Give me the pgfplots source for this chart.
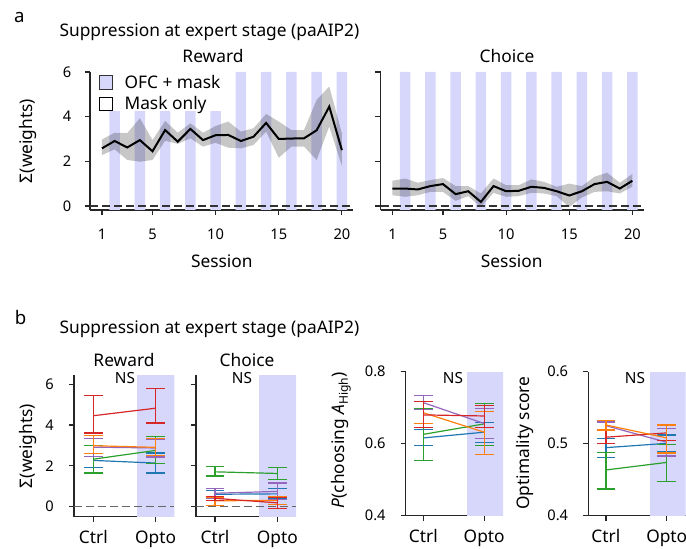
\documentclass[border=0pt]{standalone}
\usepackage{fontspec}
\setmainfont{Noto Sans}
\usepackage{pgfplots}
\pgfplotsset{compat=1.18}
\usepackage{pgfplotstable}

\definecolor{barblue}{RGB}{215,215,252}
\definecolor{tblue}{RGB}{31,119,180}
\definecolor{torange}{RGB}{255,127,14}
\definecolor{tgreen}{RGB}{44,160,44}
\definecolor{tred}{RGB}{214,39,40}
\definecolor{tpurple}{RGB}{148,103,189}
\newcommand{\lab}{\fontsize{13}{15}\selectfont}
\newcommand{\tck}{\fontsize{11}{13}\selectfont}

% ---------- panel a: session means ----------
\pgfplotstableread{
s m
1 2.58
2 2.91
3 2.62
4 2.95
5 2.45
6 3.40
7 2.88
8 3.45
9 2.95
10 3.17
11 3.18
12 2.91
13 3.10
14 3.72
15 3.00
16 3.02
17 3.03
18 3.39
19 4.45
20 2.50
}\rewA
\pgfplotstableread{
s m
1 0.78
2 0.78
3 0.74
4 0.89
5 0.98
6 0.53
7 0.66
8 0.18
9 0.89
10 0.66
11 0.68
12 0.86
13 0.81
14 0.66
15 0.47
16 0.66
17 0.98
18 1.08
19 0.78
20 1.13
}\choA
% ---------- panel a: error bands (upper edge 1..20, then lower edge 20..1) ----------
\pgfplotstableread{
s v
1 2.98
2 3.28
3 3.26
4 3.93
5 2.95
6 3.81
7 3.28
8 3.70
9 3.28
10 3.58
11 3.78
12 3.33
13 3.48
14 4.12
15 3.78
16 3.40
17 3.40
18 4.75
19 5.35
20 3.25
20 1.79
19 3.56
18 2.06
17 2.66
16 2.66
15 2.16
14 3.33
13 2.73
12 2.58
11 2.61
10 2.83
9 2.66
8 3.03
7 2.78
6 2.92
5 2.06
4 1.98
3 2.06
2 2.54
1 2.28
}\rewBand
\pgfplotstableread{
s v
1 1.13
2 1.23
3 1.04
4 1.16
5 1.25
6 0.89
7 0.89
8 0.56
9 1.23
10 0.93
11 0.93
12 1.19
13 1.08
14 0.86
15 1.00
16 0.89
17 1.31
18 1.49
19 1.04
20 1.43
20 0.86
19 0.56
18 0.66
17 0.63
16 0.38
15 -0.05
14 0.44
13 0.56
12 0.59
11 0.44
10 0.41
9 0.59
8 -0.05
7 0.44
6 0.23
5 0.63
4 0.63
3 0.48
2 0.41
1 0.48
}\choBand
% ---------- stimulation bars at even sessions (outline of all bars) ----------
\pgfplotstableread{
x y
1.58 -0.3
1.58 4.25
2.42 4.25
2.42 -0.3
3.58 -0.3
3.58 4.25
4.42 4.25
4.42 -0.3
5.58 -0.3
5.58 4.25
6.42 4.25
6.42 -0.3
7.58 -0.3
7.58 4.25
8.42 4.25
8.42 -0.3
9.58 -0.3
9.58 4.25
10.42 4.25
10.42 -0.3
11.58 -0.3
11.58 6.0
12.42 6.0
12.42 -0.3
13.58 -0.3
13.58 6.0
14.42 6.0
14.42 -0.3
15.58 -0.3
15.58 6.0
16.42 6.0
16.42 -0.3
17.58 -0.3
17.58 6.0
18.42 6.0
18.42 -0.3
19.58 -0.3
19.58 6.0
20.42 6.0
20.42 -0.3
}\barsR
\pgfplotstableread{
x y
1.58 -0.3
1.58 6.0
2.42 6.0
2.42 -0.3
3.58 -0.3
3.58 6.0
4.42 6.0
4.42 -0.3
5.58 -0.3
5.58 6.0
6.42 6.0
6.42 -0.3
7.58 -0.3
7.58 6.0
8.42 6.0
8.42 -0.3
9.58 -0.3
9.58 6.0
10.42 6.0
10.42 -0.3
11.58 -0.3
11.58 6.0
12.42 6.0
12.42 -0.3
13.58 -0.3
13.58 6.0
14.42 6.0
14.42 -0.3
15.58 -0.3
15.58 6.0
16.42 6.0
16.42 -0.3
17.58 -0.3
17.58 6.0
18.42 6.0
18.42 -0.3
19.58 -0.3
19.58 6.0
20.42 6.0
20.42 -0.3
}\barsC

% ---------- panel b data (x=0 Ctrl, x=1 Opto) ----------
\pgfplotstableread{
x ry rlo rhi oy olo ohi py plo phi gy glo ghi by blo bhi
0 4.45 3.60 5.44 2.98 2.59 3.48 2.91 2.47 3.35 2.32 1.64 2.98 2.26 1.92 2.60
1 4.82 4.09 5.77 2.90 2.51 3.33 2.87 2.43 3.31 2.75 2.10 3.44 2.13 1.64 2.62
}\rewB
\pgfplotstableread{
x ry rlo rhi oy olo ohi py plo phi gy glo ghi by blo bhi
0 0.40 0.30 0.50 0.28 0.06 0.46 0.65 0.42 0.88 1.70 1.50 1.96 0.60 0.40 0.80
1 0.18 -0.08 0.44 0.30 0.10 0.50 0.74 0.33 1.15 1.62 1.34 1.92 0.62 0.40 0.87
}\choB
\pgfplotstableread{
x ry rlo rhi oy olo ohi py plo phi gy glo ghi by blo bhi
0 0.680 0.646 0.717 0.686 0.657 0.717 0.714 0.694 0.733 0.626 0.553 0.697 0.616 0.594 0.640
1 0.677 0.646 0.705 0.632 0.569 0.689 0.656 0.615 0.697 0.655 0.596 0.712 0.632 0.604 0.658
}\pB
\pgfplotstableread{
x ry rlo rhi oy olo ohi py plo phi gy glo ghi by blo bhi
0 0.509 0.5005 0.518 0.526 0.519 0.532 0.525 0.520 0.530 0.4635 0.437 0.488 0.4945 0.481 0.5075
1 0.515 0.504 0.526 0.508 0.487 0.526 0.502 0.483 0.521 0.474 0.448 0.499 0.5005 0.489 0.512
}\optB
% Opto shading rectangles of panel b
\pgfplotstableread{
x y
0.70 -0.6
0.70 6.45
1.31 6.45
1.31 -0.6
}\shR
\pgfplotstableread{
x y
0.71 -0.6
0.71 6.45
1.31 6.45
1.31 -0.6
}\shC
\pgfplotstableread{
x y
0.71 0.3
0.71 0.8
1.32 0.8
1.32 0.3
}\shP
\pgfplotstableread{
x y
0.72 0.3
0.72 0.6
1.32 0.6
1.32 0.3
}\shO

\pgfplotsset{
  panel/.style={
    scale only axis,
    axis lines*=left,
    axis line style={line width=0.9pt, black!85},
    every tick/.style={line width=0.9pt, black!85},
    tick align=outside,
    major tick length=3.9pt,
    /pgf/number format/assume math mode=true,
    ticklabel style={font=\tck, inner sep=0pt},
    xticklabel style={yshift=-10pt},
    yticklabel style={xshift=-10pt},
  },
  panelb/.style={
    panel,
    xtick={0,1}, xticklabels={Ctrl,Opto},
    xticklabel style={font=\lab, yshift=3.6pt},
    yticklabel style={xshift=-1pt},
  },
  ser/.style={
    color=#1, line width=0.9pt, mark=none,
    error bars/y dir=both, error bars/y explicit,
    error bars/error mark=-,
    error bars/error bar style={color=#1, line width=0.9pt},
    error bars/error mark options={rotate=90, color=#1, mark size=7pt, line width=0.9pt},
  },
}

\begin{document}
\begin{tikzpicture}
\useasboundingbox (0pt,0pt) rectangle (514.5pt,411.75pt);

% ================= panel a: Reward =================
\begin{axis}[panel,
  at={(67.5pt,254.25pt)}, anchor=south west,
  width=197.25pt, height=103.5pt,
  xmin=0.05, xmax=20.88, ymin=-0.18, ymax=6,
  xtick={1,5,10,15,20}, ytick={0,2,4,6},
  legend image code/.code={\draw[#1] (0pt,-5pt) rectangle (10pt,5pt); \path (16.5pt,0pt);},
  legend style={draw=none, fill=none, at={(rel axis cs:0.033,1.0)}, anchor=north west,
    font=\lab, inner sep=0pt, row sep=0.5pt},
  legend cell align=left,
]
\addlegendimage{fill=barblue, draw=black!80, line width=0.7pt}
\addlegendentry{OFC + mask}
\addlegendimage{fill=white, draw=black, line width=0.7pt}
\addlegendentry{Mask only}
\addplot[fill=barblue, draw=none, forget plot] table[x=x,y=y] {\barsR};
\addplot[fill=black, fill opacity=0.22, draw=none, forget plot] table[x=s,y=v] {\rewBand};
\addplot[black, line width=1.5pt, forget plot] table[x=s,y=m] {\rewA};
\addplot[black!80, line width=0.9pt, dash pattern=on 6pt off 3pt, forget plot] table[x=s,y=z] {
s z
0.05 0
20.88 0
};
\end{axis}

% ================= panel a: Choice =================
\begin{axis}[panel,
  at={(285.375pt,254.25pt)}, anchor=south west,
  width=197.25pt, height=103.5pt,
  xmin=0.05, xmax=20.88, ymin=-0.18, ymax=6,
  xtick={1,5,10,15,20}, ytick={0,2,4,6}, yticklabels={,,,},
]
\addplot[fill=barblue, draw=none] table[x=x,y=y] {\barsC};
\addplot[fill=black, fill opacity=0.22, draw=none] table[x=s,y=v] {\choBand};
\addplot[black, line width=1.5pt] table[x=s,y=m] {\choA};
\addplot[black!80, line width=0.9pt, dash pattern=on 6pt off 3pt] table[x=s,y=z] {
s z
0.05 0
20.88 0
};
\end{axis}

% ================= panel b: Reward =================
\begin{axis}[panelb,
  at={(55.5pt,24.225pt)}, anchor=south west,
  width=75.2pt, height=106.3pt,
  xmin=-0.31, xmax=1.30, ymin=-0.5, ymax=6.45,
  ytick={0,2,4,6},
]
\addplot[fill=barblue, draw=none] table[x=x,y=y] {\shR};
\addplot[black!60, line width=0.9pt, dash pattern=on 6pt off 3pt] table[x=s,y=z] {
s z
-0.31 0
1.30 0
};
\addplot[ser=tblue] table[x=x,y=by,y error plus expr=\thisrow{bhi}-\thisrow{by},y error minus expr=\thisrow{by}-\thisrow{blo}] {\rewB};
\addplot[ser=tgreen] table[x=x,y=gy,y error plus expr=\thisrow{ghi}-\thisrow{gy},y error minus expr=\thisrow{gy}-\thisrow{glo}] {\rewB};
\addplot[ser=tpurple] table[x=x,y=py,y error plus expr=\thisrow{phi}-\thisrow{py},y error minus expr=\thisrow{py}-\thisrow{plo}] {\rewB};
\addplot[ser=torange] table[x=x,y=oy,y error plus expr=\thisrow{ohi}-\thisrow{oy},y error minus expr=\thisrow{oy}-\thisrow{olo}] {\rewB};
\addplot[ser=tred] table[x=x,y=ry,y error plus expr=\thisrow{rhi}-\thisrow{ry},y error minus expr=\thisrow{ry}-\thisrow{rlo}] {\rewB};
\end{axis}

% ================= panel b: Choice =================
\begin{axis}[panelb,
  at={(147pt,24.225pt)}, anchor=south west,
  width=75pt, height=106.3pt,
  xmin=-0.305, xmax=1.30, ymin=-0.5, ymax=6.45,
  ytick={0,2,4,6}, yticklabels={,,,},
]
\addplot[fill=barblue, draw=none] table[x=x,y=y] {\shC};
\addplot[black!60, line width=0.9pt, dash pattern=on 6pt off 3pt] table[x=s,y=z] {
s z
-0.305 0
1.30 0
};
\addplot[ser=tblue] table[x=x,y=by,y error plus expr=\thisrow{bhi}-\thisrow{by},y error minus expr=\thisrow{by}-\thisrow{blo}] {\choB};
\addplot[ser=tgreen] table[x=x,y=gy,y error plus expr=\thisrow{ghi}-\thisrow{gy},y error minus expr=\thisrow{gy}-\thisrow{glo}] {\choB};
\addplot[ser=tpurple] table[x=x,y=py,y error plus expr=\thisrow{phi}-\thisrow{py},y error minus expr=\thisrow{py}-\thisrow{plo}] {\choB};
\addplot[ser=torange] table[x=x,y=oy,y error plus expr=\thisrow{ohi}-\thisrow{oy},y error minus expr=\thisrow{oy}-\thisrow{olo}] {\choB};
\addplot[ser=tred] table[x=x,y=ry,y error plus expr=\thisrow{rhi}-\thisrow{ry},y error minus expr=\thisrow{ry}-\thisrow{rlo}] {\choB};
\end{axis}

% ================= panel b: P(choosing A_High) =================
\begin{axis}[panelb,
  at={(304.3pt,24.975pt)}, anchor=south west,
  width=73pt, height=108pt,
  xmin=-0.29, xmax=1.31, ymin=0.4, ymax=0.8,
  ytick={0.4,0.6,0.8}, yticklabels={0.4,0.6,0.8},
]
\addplot[fill=barblue, draw=none] table[x=x,y=y] {\shP};
\addplot[ser=tblue] table[x=x,y=by,y error plus expr=\thisrow{bhi}-\thisrow{by},y error minus expr=\thisrow{by}-\thisrow{blo}] {\pB};
\addplot[ser=tgreen] table[x=x,y=gy,y error plus expr=\thisrow{ghi}-\thisrow{gy},y error minus expr=\thisrow{gy}-\thisrow{glo}] {\pB};
\addplot[ser=tpurple] table[x=x,y=py,y error plus expr=\thisrow{phi}-\thisrow{py},y error minus expr=\thisrow{py}-\thisrow{plo}] {\pB};
\addplot[ser=torange] table[x=x,y=oy,y error plus expr=\thisrow{ohi}-\thisrow{oy},y error minus expr=\thisrow{oy}-\thisrow{olo}] {\pB};
\addplot[ser=tred] table[x=x,y=ry,y error plus expr=\thisrow{rhi}-\thisrow{ry},y error minus expr=\thisrow{ry}-\thisrow{rlo}] {\pB};
\end{axis}

% ================= panel b: Optimality score =================
\begin{axis}[panelb,
  at={(441.2pt,24.975pt)}, anchor=south west,
  width=73pt, height=108pt,
  xmin=-0.29, xmax=1.31, ymin=0.4, ymax=0.6,
  ytick={0.4,0.5,0.6}, yticklabels={0.4,0.5,0.6},
]
\addplot[fill=barblue, draw=none] table[x=x,y=y] {\shO};
\addplot[ser=tblue] table[x=x,y=by,y error plus expr=\thisrow{bhi}-\thisrow{by},y error minus expr=\thisrow{by}-\thisrow{blo}] {\optB};
\addplot[ser=tgreen] table[x=x,y=gy,y error plus expr=\thisrow{ghi}-\thisrow{gy},y error minus expr=\thisrow{gy}-\thisrow{glo}] {\optB};
\addplot[ser=tpurple] table[x=x,y=py,y error plus expr=\thisrow{phi}-\thisrow{py},y error minus expr=\thisrow{py}-\thisrow{plo}] {\optB};
\addplot[ser=tred] table[x=x,y=ry,y error plus expr=\thisrow{rhi}-\thisrow{ry},y error minus expr=\thisrow{ry}-\thisrow{rlo}] {\optB};
\addplot[ser=torange] table[x=x,y=oy,y error plus expr=\thisrow{ohi}-\thisrow{oy},y error minus expr=\thisrow{oy}-\thisrow{olo}] {\optB};
\end{axis}

% ================= texts =================
\node[anchor=base, font=\fontsize{14}{16}\selectfont\bfseries] at (14.6pt,394.5pt) {a};
\node[anchor=base west, font=\lab, inner sep=0pt] at (44.5pt,384.2pt) {Suppression at expert stage (paAIP2)};
\node[anchor=base, font=\lab, inner sep=0pt] at (159.75pt,364.5pt) {Reward};
\node[anchor=base, font=\lab, inner sep=0pt] at (380.25pt,364.5pt) {Choice};
\node[anchor=base, font=\lab, inner sep=0pt] at (166.4pt,211.3pt) {Session};
\node[anchor=base, font=\lab, inner sep=0pt] at (383.8pt,211.3pt) {Session};
\node[rotate=90, font=\lab, inner sep=0pt] at (21pt,306pt) {Σ(weights)};

\node[anchor=base, font=\fontsize{14}{16}\selectfont\bfseries] at (15.4pt,168pt) {b};
\node[anchor=base west, font=\lab, inner sep=0pt] at (44.5pt,161.8pt) {Suppression at expert stage (paAIP2)};
\node[anchor=base, font=\lab, inner sep=0pt] at (93pt,136.7pt) {Reward};
\node[anchor=base, font=\lab, inner sep=0pt] at (185.25pt,136.7pt) {Choice};
\node[anchor=base, font=\fontsize{11.5}{13}\selectfont, inner sep=0pt] at (93.75pt,123.75pt) {NS};
\node[anchor=base, font=\fontsize{11.5}{13}\selectfont, inner sep=0pt] at (181.5pt,123.75pt) {NS};
\node[anchor=base, font=\fontsize{11.5}{13}\selectfont, inner sep=0pt] at (339.75pt,123.75pt) {NS};
\node[anchor=base, font=\fontsize{11.5}{13}\selectfont, inner sep=0pt] at (476.25pt,123.75pt) {NS};
\node[rotate=90, font=\lab, inner sep=0pt] at (21pt,77.25pt) {Σ(weights)};
\node[rotate=90, font=\lab, inner sep=0pt] at (255.75pt,81.75pt) {\textit{P}(choosing \textit{A}\textsubscript{High})};
\node[rotate=90, font=\lab, inner sep=0pt] at (393.75pt,79.5pt) {Optimality score};
\end{tikzpicture}
\end{document}
